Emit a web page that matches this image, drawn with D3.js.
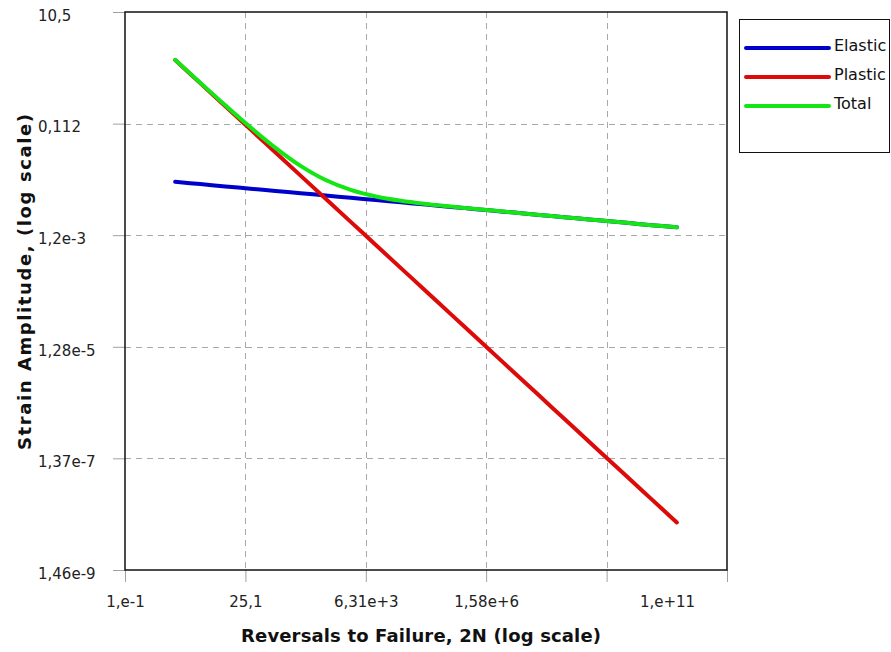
<!DOCTYPE html>
<html>
<head>
<meta charset="utf-8">
<script src="https://cdn.jsdelivr.net/npm/d3@7"></script>
<style>
  html, body { margin: 0; padding: 0; background: #fff; }
  svg { display: block; font-family: "DejaVu Sans", Verdana, sans-serif; }
</style>
</head>
<body>
<svg id="chart" width="891" height="652"></svg>
<script>
// Reversals to failure (2N) at which each curve is sampled
const cycles = [1, 3.16, 10, 31.6, 100, 316, 1e3, 3.16e3, 1e4, 3.16e4, 1e5, 3.16e5,
                1e6, 3.16e6, 1e7, 3.16e7, 1e8, 3.16e8, 1e9, 3.16e9, 1e10];

// Strain amplitude components
const elasticStrain = [0.0105, 0.00957, 0.00872, 0.00795, 0.00725, 0.00661, 0.00602,
                       0.00549, 0.00500, 0.00456, 0.00416, 0.00379, 0.00345, 0.00315,
                       0.00287, 0.00261, 0.00238, 0.00217, 0.00198, 0.00180, 0.00165];
const plasticStrain = [1.49, 0.582, 0.227, 0.0887, 0.0346, 0.0135, 0.00528, 0.00206,
                       8.04e-4, 3.14e-4, 1.23e-4, 4.78e-5, 1.87e-5, 7.29e-6, 2.85e-6,
                       1.11e-6, 4.34e-7, 1.69e-7, 6.60e-8, 2.58e-8, 1.01e-8];
const totalStrain   = [1.50, 0.592, 0.236, 0.0967, 0.0419, 0.0201, 0.0113, 0.00755,
                       0.00580, 0.00487, 0.00428, 0.00384, 0.00347, 0.00316, 0.00287,
                       0.00261, 0.00238, 0.00217, 0.00198, 0.00180, 0.00165];

const seriesNames  = ["Elastic", "Plastic", "Total"];
const seriesColors = ["#0000cc", "#dd0a0a", "#14e614"];

// Axis ticks
const xTickValues = [0.1, 25.1, 6310, 1.58e6, 3.98e8, 1e11];
const xTickLabels = ["1,e-1", "25,1", "6,31e+3", "1,58e+6", "", "1,e+11"];
const yTickValues = [1.46e-9, 1.37e-7, 1.28e-5, 1.2e-3, 0.112, 10.5];
const yTickLabels = ["1,46e-9", "1,37e-7", "1,28e-5", "1,2e-3", "0,112", "10,5"];

const plot = { left: 125, top: 12, right: 727, bottom: 570 };

const svg = d3.select("#chart");

const x = d3.scaleLog().domain([0.1, 1e11]).range([plot.left, plot.right]);
const y = d3.scaleLog().domain([1.46e-9, 10.5]).range([plot.bottom, plot.top]);

// Dashed grid
const grid = svg.append("g").attr("stroke", "#a8a8a8").attr("stroke-width", 1)
  .attr("stroke-dasharray", "6,5").attr("fill", "none");
grid.selectAll("line.gx").data(xTickValues.slice(1, -1)).join("line")
  .attr("x1", d => Math.round(x(d)) + 0.5).attr("x2", d => Math.round(x(d)) + 0.5)
  .attr("y1", plot.top).attr("y2", plot.bottom);
grid.selectAll("line.gy").data(yTickValues.slice(1, -1)).join("line")
  .attr("x1", plot.left).attr("x2", plot.right)
  .attr("y1", d => Math.round(y(d)) + 0.5).attr("y2", d => Math.round(y(d)) + 0.5);

// Axes
const xAxis = svg.append("g").attr("transform", `translate(0,${plot.bottom})`)
  .call(d3.axisBottom(x).tickValues(xTickValues).tickSize(12).tickPadding(14)
    .tickFormat((d, i) => xTickLabels[i]));
xAxis.select(".domain").remove();
xAxis.selectAll(".tick line").attr("stroke", "#a0a0a0");
xAxis.selectAll(".tick text").attr("font-size", 15).attr("fill", "#222")
  .attr("font-family", "DejaVu Sans, Verdana, sans-serif")
  .attr("dx", (d, i) => i === xTickLabels.length - 1 ? -60 : 0);

const yAxis = svg.append("g").attr("transform", `translate(${plot.left},0)`)
  .call(d3.axisLeft(y).tickValues(yTickValues).tickSize(12)
    .tickFormat((d, i) => yTickLabels[i]));
yAxis.select(".domain").remove();
yAxis.selectAll(".tick line").attr("stroke", "#a0a0a0");
yAxis.selectAll(".tick text").attr("font-size", 15).attr("fill", "#222")
  .attr("font-family", "DejaVu Sans, Verdana, sans-serif")
  .attr("text-anchor", "start").attr("x", 38 - plot.left).attr("dy", "0.55em");

// Plot frame
svg.append("rect")
  .attr("x", plot.left).attr("y", plot.top)
  .attr("width", plot.right - plot.left).attr("height", plot.bottom - plot.top)
  .attr("fill", "none").attr("stroke", "#111").attr("stroke-width", 1.5);

// Curves
const series = [elasticStrain, plasticStrain, totalStrain];
const line = d3.line()
  .x((d, i) => x(cycles[i]))
  .y(d => y(d))
  .curve(d3.curveCatmullRom);

svg.append("g").selectAll("path").data(series).join("path")
  .attr("d", d => line(d))
  .attr("fill", "none")
  .attr("stroke", (d, i) => seriesColors[i])
  .attr("stroke-width", 4)
  .attr("stroke-linecap", "round")
  .attr("stroke-linejoin", "round");

// Axis titles
svg.append("text")
  .attr("x", 421).attr("y", 642)
  .attr("text-anchor", "middle").attr("font-size", 18).attr("font-weight", "bold")
  .attr("fill", "#111")
  .attr("textLength", 360).attr("lengthAdjust", "spacing")
  .text("Reversals to Failure, 2N (log scale)");

svg.append("text")
  .attr("transform", "translate(31,282) rotate(-90)")
  .attr("text-anchor", "middle").attr("font-size", 18).attr("font-weight", "bold")
  .attr("fill", "#111")
  .attr("textLength", 336).attr("lengthAdjust", "spacing")
  .text("Strain Amplitude, (log scale)");

// Legend
const legend = svg.append("g");
legend.append("rect")
  .attr("x", 739.5).attr("y", 19.5).attr("width", 150).attr("height", 133)
  .attr("fill", "#fff").attr("stroke", "#111").attr("stroke-width", 1);
const items = legend.selectAll("g.item").data(seriesNames).join("g")
  .attr("transform", (d, i) => `translate(0,${48 + i * 29})`);
items.append("line")
  .attr("x1", 746).attr("x2", 829).attr("y1", 0).attr("y2", 0)
  .attr("stroke", (d, i) => seriesColors[i]).attr("stroke-width", 4)
  .attr("stroke-linecap", "round");
items.append("text")
  .attr("x", 834).attr("y", 3).attr("font-size", 16).attr("fill", "#111")
  .text(d => d);
</script>
</body>
</html>
